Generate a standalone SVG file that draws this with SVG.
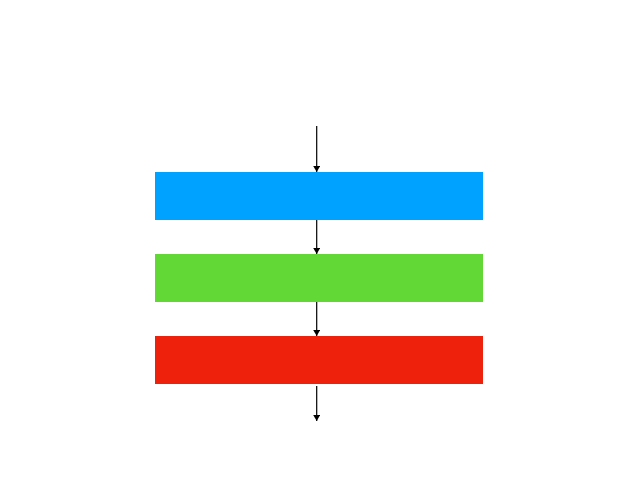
<svg xmlns="http://www.w3.org/2000/svg" width="638" height="479" viewBox="0 0 638 479">
<defs>
<marker id="ah" markerWidth="6" markerHeight="7" refX="6" refY="3.5" orient="auto" markerUnits="userSpaceOnUse">
<path d="M0,0 L6,3.5 L0,7 Z" fill="#000"/>
</marker>
<style>
.c{stroke:#000;stroke-width:1.2;fill:none;marker-end:url(#ah)}
</style>
</defs>
<rect width="638" height="479" fill="#fff"/>
<g id="n1"><rect x="155" y="172" width="328" height="48" fill="#00a2ff"/></g>
<g id="n2"><rect x="155" y="254" width="328" height="48" fill="#61d836"/></g>
<g id="n3"><rect x="155" y="336" width="328" height="48" fill="#ee220c"/></g>
<g id="connectors">
<line class="c" x1="316.7" y1="126" x2="316.7" y2="172"/>
<line class="c" x1="316.7" y1="220" x2="316.7" y2="254"/>
<line class="c" x1="316.7" y1="302" x2="316.7" y2="336"/>
<line class="c" x1="316.7" y1="386" x2="316.7" y2="421"/>
</g>
</svg>
